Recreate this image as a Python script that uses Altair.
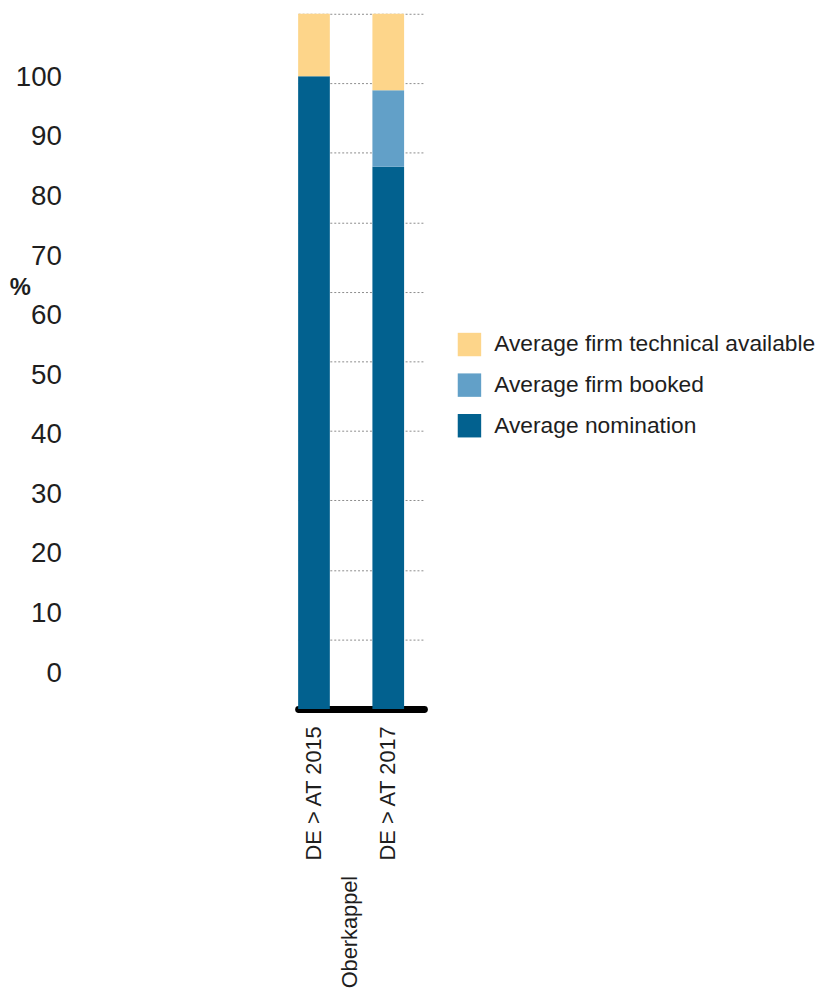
import altair as alt
import pandas as pd

# ---- data ----
categories = ["DE > AT 2015", "DE > AT 2017"]
nomination = [91, 78]
booked = [0, 11]
technical = [9, 11]
series = ["Average firm technical available", "Average firm booked", "Average nomination"]
colors = ["#FDD58A", "#62A0C8", "#02618F"]
tick_labels = [0, 10, 20, 30, 40, 50, 60, 70, 80, 90, 100]
grid_values = [0, 10, 20, 30, 40, 50, 60, 70, 80, 90, 100]
group_label = "Oberkappel"

rows = []
for i, cat in enumerate(categories):
    for name, vals, k in [
        ("Average nomination", nomination, 0),
        ("Average firm booked", booked, 1),
        ("Average firm technical available", technical, 2),
    ]:
        rows.append({"category": cat, "series": name, "value": vals[i], "k": k})
df = pd.DataFrame(rows)

FONT = "Liberation Sans, Arial, sans-serif"
TXT = "#1e1e1e"

bars = alt.Chart(df).mark_bar().encode(
    x=alt.X(
        "category:N",
        sort=categories,
        scale=alt.Scale(paddingInner=0.5733, paddingOuter=0.1333, align=0),
        axis=alt.Axis(
            title=group_label,
            titleAngle=270,
            titleAlign="right",
            titleBaseline="middle",
            titleX=52,
            titleY=168,
            titleFont=FONT,
            titleFontSize=22,
            titleFontWeight="normal",
            titleColor=TXT,
            labelAngle=270,
            labelAlign="right",
            labelBaseline="middle",
            labelFont=FONT,
            labelFontSize=22,
            labelColor=TXT,
            labelPadding=17,
            ticks=False,
            tickSize=0,
            domainColor="#000000",
            domainWidth=7,
            domainCap="round",
            grid=False,
        ),
    ),
    y=alt.Y(
        "value:Q",
        stack="zero",
        scale=alt.Scale(domain=[0, 100], nice=False),
        axis=alt.Axis(
            values=grid_values,
            grid=True,
            gridDash=[2, 2],
            gridColor="#8c8c8c",
            gridWidth=1,
            labels=False,
            ticks=False,
            domain=False,
            title=None,
        ),
    ),
    color=alt.Color(
        "series:N",
        scale=alt.Scale(domain=series, range=colors),
        legend=alt.Legend(
            title=None,
            orient="none",
            legendX=161,
            legendY=322,
            symbolType="square",
            symbolSize=560,
            symbolStrokeWidth=0,
            symbolOpacity=1,
            labelFont=FONT,
            labelFontSize=23,
            labelColor=TXT,
            labelOffset=13,
            labelLimit=500,
            rowPadding=17,
            padding=0,
        ),
    ),
    order=alt.Order("k:Q", sort="ascending"),
)

labels_layer = alt.Chart(pd.DataFrame({"v": tick_labels})).mark_tick(opacity=0).encode(
    y=alt.Y(
        "v:Q",
        scale=alt.Scale(domain=[-6, 110.667], nice=False, zero=False),
        axis=alt.Axis(
            orient="left",
            values=tick_labels,
            offset=239,
            ticks=False,
            tickSize=0,
            domain=False,
            grid=False,
            labelPadding=0,
            labelFont=FONT,
            labelFontSize=28,
            labelColor=TXT,
            title="%",
            titleAngle=0,
            titleAlign="center",
            titleBaseline="middle",
            titleX=-42,
            titleY=276,
            titleFont=FONT,
            titleFontSize=24,
            titleFontWeight="bold",
            titleColor=TXT,
        ),
    )
)

chart = (
    alt.layer(bars, labels_layer)
    .resolve_scale(y="independent")
    .properties(
        width=127,
        height=702,
        autosize=alt.AutoSizeParams(type="none"),
        padding={"left": 293, "top": 1, "right": 400, "bottom": 280},
    )
    .configure_view(stroke=None)
)

chart.save("out.html", embed_options={"renderer": "svg", "actions": False})
